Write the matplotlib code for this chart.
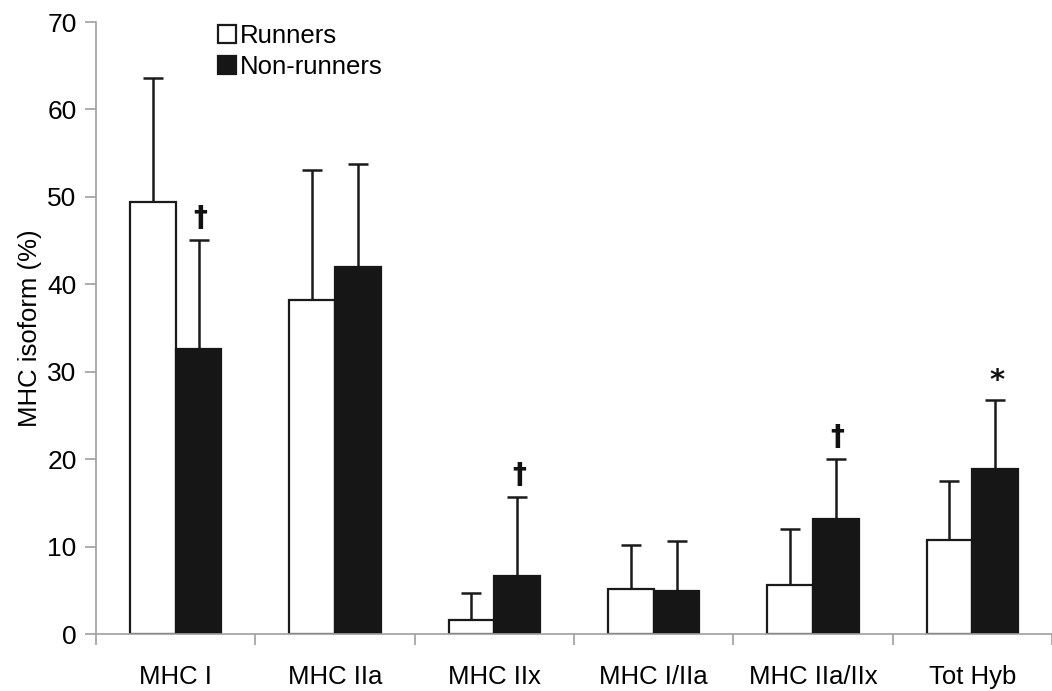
import numpy as np
import matplotlib.pyplot as plt

plt.rcParams['font.family'] = ['Liberation Sans', 'DejaVu Sans']

categories = ['MHC I', 'MHC IIa', 'MHC IIx', 'MHC I/IIa', 'MHC IIa/IIx', 'Tot Hyb']
runners = [49.4, 38.2, 1.6, 5.15, 5.6, 10.8]
runners_sd = [14.2, 14.9, 3.1, 5.05, 6.4, 6.7]
non_runners = [32.6, 42.0, 6.6, 4.9, 13.15, 18.9]
non_runners_sd = [12.5, 11.8, 9.1, 5.7, 6.85, 7.9]
marks = ['†', '', '†', '', '†', '*']

grey = '#a0a0a0'
w = 0.2875
x = np.arange(len(categories))

fig = plt.figure(figsize=(10.52, 6.91), dpi=100)
ax = fig.add_axes([96/1052, 1 - 634/691, 1 - 96/1052, (634 - 22)/691])

ax.bar(x - w/2, runners, w, color='white', edgecolor='#1a1a1a', linewidth=1.6,
       label='Runners', zorder=2)
ax.bar(x + w/2, non_runners, w, color='#161616', edgecolor='#161616', linewidth=1.6,
       label='Non-runners', zorder=2)
ax.errorbar(x - w/2, runners, yerr=[np.zeros(len(x)), runners_sd], fmt='none',
            ecolor='#1a1a1a', elinewidth=1.8, capsize=7, capthick=1.8, zorder=1)
ax.errorbar(x + w/2, non_runners, yerr=[np.zeros(len(x)), non_runners_sd], fmt='none',
            ecolor='#1a1a1a', elinewidth=1.8, capsize=7, capthick=1.8, zorder=1)

for i, m in enumerate(marks):
    if m:
        top = non_runners[i] + non_runners_sd[i]
        if m == '†':
            ax.text(x[i] + w/2 + 0.01, top + 0.9, m, ha='center', va='bottom',
                    fontsize=20, fontweight='bold', color='#111111', family=['DejaVu Sans'])
        else:
            ax.text(x[i] + w/2 + 0.01, top + 0.5, m, ha='center', va='bottom',
                    fontsize=21, fontweight='bold', color='#111111', family=['DejaVu Sans'])

ax.set_xlim(-0.5, 5.475)
ax.set_ylim(0, 70)
ax.set_yticks(range(0, 71, 10))
ax.set_xticks(x)
ax.set_xticklabels(categories)
ax.set_xticks(np.arange(-0.5, 6, 1), minor=True)
ax.tick_params(axis='x', which='major', length=0, pad=22, labelsize=18.5)
ax.tick_params(axis='x', which='minor', length=8, color=grey, width=1.2)
ax.tick_params(axis='y', length=8, color=grey, width=1.2, labelsize=19, pad=6)
for s in ['top', 'right']:
    ax.spines[s].set_visible(False)
for s in ['left', 'bottom']:
    ax.spines[s].set_color(grey)
    ax.spines[s].set_linewidth(1.2)
ax.spines['bottom'].set_zorder(3)

ax.set_ylabel('MHC isoform (%)', fontsize=18.5, labelpad=4)

ax.legend(loc='upper left', bbox_to_anchor=(0.103, 1.035), frameon=False, fontsize=18.5,
          handlelength=0.7, handleheight=0.7, handletextpad=0.15, labelspacing=0.3)

fig.savefig('out.png', dpi=100)
